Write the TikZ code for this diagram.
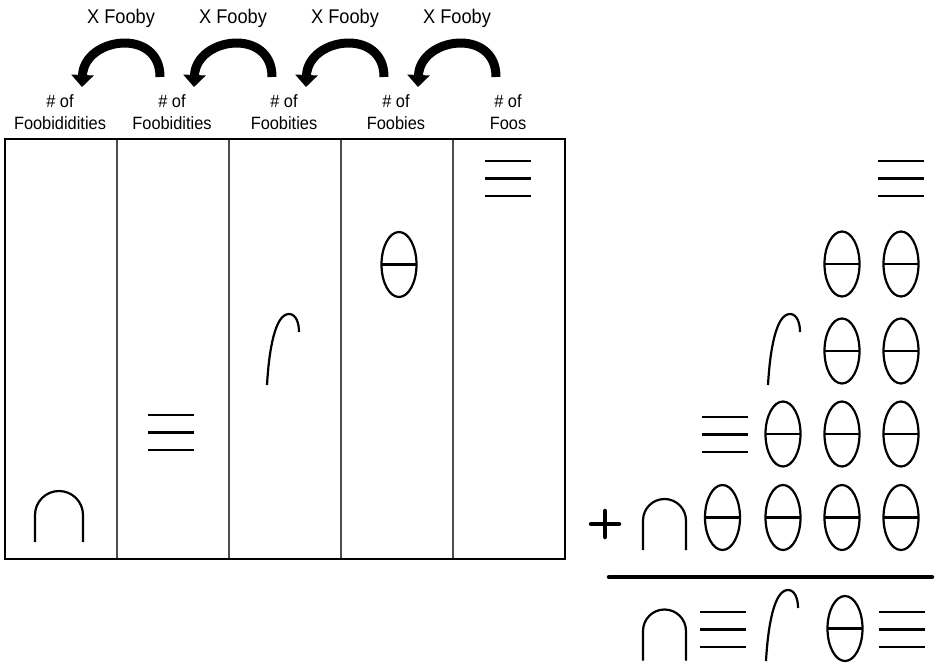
\documentclass[tikz,border=0pt]{standalone}
\usepackage{fontspec}
\setmainfont[FakeStretch=0.92]{Liberation Sans}
\usetikzlibrary{arrows.meta}

\tikzset{
  symline/.style={line width=2.2pt},
  divline/.style={line width=1.5pt, black!70},
  lbl/.style={inner sep=0, align=center, font=\fontsize{17.8}{22}\selectfont},
  xlbl/.style={inner sep=0, font=\fontsize{19.8}{22}\selectfont},
  bigarrow/.style={line width=9pt, -{Triangle[length=12pt,width=22pt]}},
  pics/eqsym/.style={code={
    \draw[symline] (-23,17.5) -- (23,17.5);
    \draw[symline] (-23,0) -- (23,0);
    \draw[symline] (-23,-17.5) -- (23,-17.5);}},
  pics/thsym/.style={code={
    \draw[symline] (0,0) ellipse [x radius=17.5, y radius=32.5];
    \draw[symline] (-17.5,0) -- (17.5,0);}},
  pics/capsym/.style={code={
    \draw[symline] (-#1,-25.5) -- (-#1,25.5-#1) arc[start angle=180, end angle=0, radius=#1] -- (#1,-25.5);}},
  pics/hooksym/.style={code={
    \draw[symline] (0,0) .. controls (2,35) and (8,71) .. (22,71) .. controls (29,71) and (32,62) .. (32,53);}},
}

\begin{document}
\begin{tikzpicture}[x=1pt, y=1pt]
    \useasboundingbox (0,0) rectangle (935,-666);

    % table
    \draw[divline] (117,-139) -- (117,-559);
    \draw[divline] (229,-139) -- (229,-559);
    \draw[divline] (341,-139) -- (341,-559);
    \draw[divline] (453,-139) -- (453,-559);
    \draw[line width=2pt] (5,-139) rectangle (565,-559);

    % column heads
    \node[lbl, anchor=base] (foobididities) at (60,-130) {\# of\\Foobididities};
    \node[lbl, anchor=base] (foobidities) at (172,-130) {\# of\\Foobidities};
    \node[lbl, anchor=base] (foobities) at (284,-130) {\# of\\Foobities};
    \node[lbl, anchor=base] (foobies) at (396,-130) {\# of\\Foobies};
    \node[lbl, anchor=base] (foos) at (508,-130) {\# of\\Foos};

    \node[xlbl, anchor=base] (fooby1) at (121,-24) {X Fooby};
    \node[xlbl, anchor=base] (fooby2) at (233,-24) {X Fooby};
    \node[xlbl, anchor=base] (fooby3) at (345,-24) {X Fooby};
    \node[xlbl, anchor=base] (fooby4) at (457,-24) {X Fooby};

    % carry arrows
    \coordinate (a1) at (160,-77);  \coordinate (b1) at (82,-87);
    \coordinate (a2) at (272,-77);  \coordinate (b2) at (194,-87);
    \coordinate (a3) at (384,-77);  \coordinate (b3) at (306,-87);
    \coordinate (a4) at (496,-77);  \coordinate (b4) at (418,-87);
    \draw[bigarrow] (a1) .. controls +(0,50) and +(2,50) .. (b1);
    \draw[bigarrow] (a2) .. controls +(0,50) and +(2,50) .. (b2);
    \draw[bigarrow] (a3) .. controls +(0,50) and +(2,50) .. (b3);
    \draw[bigarrow] (a4) .. controls +(0,50) and +(2,50) .. (b4);

    % symbols in the table
    \pic at (59,-516.5) {capsym=24};
    \pic at (171,-432.5) {eqsym};
    \pic at (267,-385) {hooksym};
    \pic at (399,-264.5) {thsym};
    \pic at (508,-178.5) {eqsym};

    % the sum
    \pic at (901,-178.5) {eqsym};

    \pic at (842,-264) {thsym};
    \pic at (901,-264) {thsym};

    \pic at (768,-385) {hooksym};
    \pic at (842,-351) {thsym};
    \pic at (901,-351) {thsym};

    \pic at (724.5,-434.5) {eqsym};
    \pic at (783,-434) {thsym};
    \pic at (842,-434) {thsym};
    \pic at (901,-434) {thsym};

    \draw[line width=4.5pt, line cap=round] (591,-524) -- (619,-524);
    \draw[line width=4.5pt, line cap=round] (605,-511) -- (605,-537);
    \pic at (664.5,-524.5) {capsym=21.5};
    \pic at (722.5,-517.5) {thsym};
    \pic at (783,-517.5) {thsym};
    \pic at (842,-517.5) {thsym};
    \pic at (901,-517.5) {thsym};

    \draw[line width=4.5pt, line cap=round] (609,-577) -- (932,-577);

    \pic at (664.5,-635) {capsym=21.5};
    \pic at (723,-629.5) {eqsym};
    \pic at (766,-661) {hooksym};
    \pic at (845,-628.5) {thsym};
    \pic at (902,-629.5) {eqsym};
\end{tikzpicture}
\end{document}
